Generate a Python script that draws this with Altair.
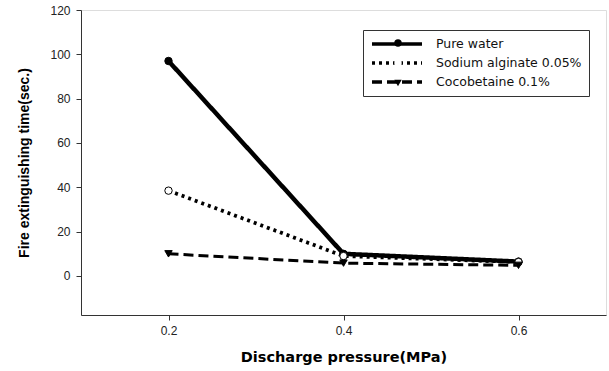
import altair as alt
import pandas as pd

pressure = [0.2, 0.4, 0.6]
series_names = ["Pure water", "Sodium alginate 0.05%", "Cocobetaine 0.1%"]
pure_water = [97, 10, 6.5]
sodium_alginate = [38.5, 9, 6.3]
cocobetaine = [10, 5.8, 4.8]

rows = []
for name, vals in zip(series_names, [pure_water, sodium_alginate, cocobetaine]):
    for p, v in zip(pressure, vals):
        rows.append({"pressure": p, "time": v, "series": name, "series_line": name})
df = pd.DataFrame(rows)

x_enc = alt.X("pressure:Q", scale=alt.Scale(domain=[0.1, 0.7], nice=False, zero=False),
              axis=alt.Axis(values=pressure, format=".1f", title="Discharge pressure(MPa)",
                            titleFont="DejaVu Sans", titleFontSize=14.5, titleFontWeight="bold",
                            titlePadding=14, labelFont="Liberation Sans", labelFontSize=12,
                            labelColor="#222", labelPadding=5, tickSize=5, tickColor="#333",
                            domainColor="#333", grid=False))
y_enc = alt.Y("time:Q", scale=alt.Scale(domain=[-17.6, 120], nice=False, zero=False),
              axis=alt.Axis(values=[0, 20, 40, 60, 80, 100, 120], title="Fire extinguishing time(sec.)",
                            titleFont="Liberation Sans", titleFontSize=14, titleFontWeight="bold",
                            titlePadding=18, labelFont="Liberation Sans", labelFontSize=12,
                            labelColor="#222", labelPadding=6, tickSize=5, tickColor="#333",
                            domainColor="#333", grid=False))

lines = alt.Chart(df).mark_line(color="black").encode(
    x=x_enc, y=y_enc,
    strokeDash=alt.StrokeDash("series_line:N", sort=series_names,
        scale=alt.Scale(range=[[1, 0], [3, 4], [10, 5]]),
        legend=alt.Legend(title=None, orient="none", legendX=282, legendY=20,
                          symbolType="M-1,0H9", symbolSize=100, symbolStrokeColor="black",
                          symbolStrokeWidth=3.5, symbolFillColor="transparent",
                          labelFont="DejaVu Sans", labelFontSize=12.5, labelColor="#111",
                          labelOffset=52, rowPadding=5, padding=7,
                          strokeColor="#333", fillColor="white")),
    strokeWidth=alt.StrokeWidth("series_line:N", sort=series_names,
        scale=alt.Scale(range=[4.5, 3, 3.5]), legend=None),
)

points = alt.Chart(df).mark_point(stroke="black", strokeWidth=1, size=55, opacity=1).encode(
    x="pressure:Q", y="time:Q",
    shape=alt.Shape("series:N",
        scale=alt.Scale(domain=series_names, range=["circle", "circle", "triangle-down"]),
        legend=alt.Legend(title=None, orient="none", legendX=311, legendY=27,
                          labelExpr="''", labelFontSize=12, labelFont="DejaVu Sans",
                          symbolStrokeColor="black", symbolSize=55, rowPadding=6, padding=0)),
    fill=alt.Fill("series:N",
        scale=alt.Scale(domain=series_names, range=["black", "white", "black"])),
)

chart = alt.layer(lines, points).properties(
    width=525, height=305,
    autosize=alt.AutoSizeParams(type="none"),
    padding={"left": 81, "top": 10, "right": 3, "bottom": 56},
).configure_view(stroke="#333", strokeWidth=1).configure(background="white")

chart.save("out.html", embed_options={"renderer": "svg", "actions": False})
